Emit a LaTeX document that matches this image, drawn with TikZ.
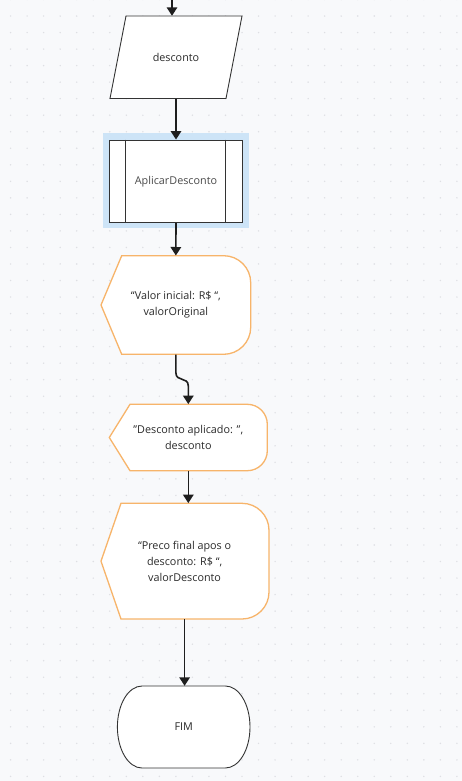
\documentclass[tikz,border=0pt]{standalone}
\usepackage{fontspec}
\setmainfont{Open Sans}
\usetikzlibrary{arrows.meta,calc}
\definecolor{bgc}{HTML}{F8F9FB}
\definecolor{dotc}{HTML}{DEDFE3}
\definecolor{linec}{HTML}{1E1E1E}
\definecolor{orng}{HTML}{F7B46A}
\definecolor{hl}{HTML}{CDE4F7}
\definecolor{txtc}{HTML}{2A2A2A}
\definecolor{txtb}{HTML}{4A4A4A}
\definecolor{brd}{HTML}{333333}
\newcommand\dispshp[6]{%
 \draw[disp] (#1,{(#4+#5)/2}) -- (#2,#4) -- ({#3-#6},#4) arc[start angle=-90,end angle=0,radius=#6] -- (#3,{#5-#6}) arc[start angle=0,end angle=90,radius=#6] -- (#2,#5) -- cycle;}
\begin{document}
\begin{tikzpicture}[x=1pt,y=-1pt,
 lbl/.style={font=\fontsize{10.8}{16}\selectfont, text=txtc, align=center, inner sep=0pt},
 arr/.style={draw=linec, line width=1.6pt, -{Triangle[width=10.5pt,length=8.5pt]}},
 shp/.style={draw=brd, line width=0.9pt, fill=white},
 disp/.style={draw=orng, line width=1.3pt, fill=white}]
\fill[bgc] (0,0) rectangle (462,781);
\useasboundingbox (0,0) rectangle (462,781);
\foreach \i in {0,...,27}{\foreach \j in {0,...,47}{\fill[dotc] ({10.6+16.53*\i},{-0.5+16.53*\j}) circle (0.8);}}
% input parallelogram
\draw[shp] (126,16) -- (242,16) -- (226,98.5) -- (110,98.5) -- cycle;
\node[lbl, minimum width=132pt, minimum height=82.5pt] (inp) at (176,57.25) {desconto};
% subroutine
\fill[hl] (103,133) rectangle (249,228);
\node[lbl, shp, text=txtb, minimum width=132.6pt, minimum height=82.7pt] (sub) at (176,181.35) {AplicarDesconto};
\draw[brd, line width=0.9pt] ([xshift=16.6pt]sub.north west) -- ([xshift=16.6pt]sub.south west)
  ([xshift=-17pt]sub.north east) -- ([xshift=-17pt]sub.south east);
% displays
\dispshp{101}{121.7}{250.7}{255.7}{354.3}{27}
\node[lbl, minimum width=149.7pt, minimum height=98.6pt] (disp1) at (175.85,305) {“Valor inicial: R\$ “,\\valorOriginal};
\dispshp{109.3}{130}{267.3}{404.3}{470.7}{20}
\node[lbl, minimum width=158pt, minimum height=66.4pt] (disp2) at (188.3,437.5) {"Desconto aplicado: ",\\desconto};
\dispshp{101}{121}{269}{503.3}{619}{27}
\node[lbl, minimum width=168pt, minimum height=115.7pt] (disp3) at (184.6,561.15) {“Preco final apos o\\desconto: R\$ “,\\valorDesconto};
% terminal
\draw[shp] (142,686) -- (225.4,686) arc[start angle=-90,end angle=90,x radius=24.6,y radius=41] -- (142,768) arc[start angle=90,end angle=270,x radius=24.6,y radius=41] -- cycle;
\node[lbl, minimum width=132.7pt, minimum height=82pt] (fim) at (183.7,727) {FIM};
% connectors
\coordinate (st) at (172,-2);
\draw[arr] (st) -- (st |- inp.north);
\draw[arr] (inp.south) -- (sub.north);
\draw[arr] (sub.south) -- (disp1.north);
\draw[arr] (disp1.south) -- ++(0,18) .. controls +(0,10) and +(0,-10) .. ($(disp2.north)+(0,-18)$) -- (disp2.north);
\draw[arr] (disp2.south) -- (disp2.south |- disp3.north);
\draw[arr] (disp3.south) -- (disp3.south |- fim.north);
\end{tikzpicture}
\end{document}
